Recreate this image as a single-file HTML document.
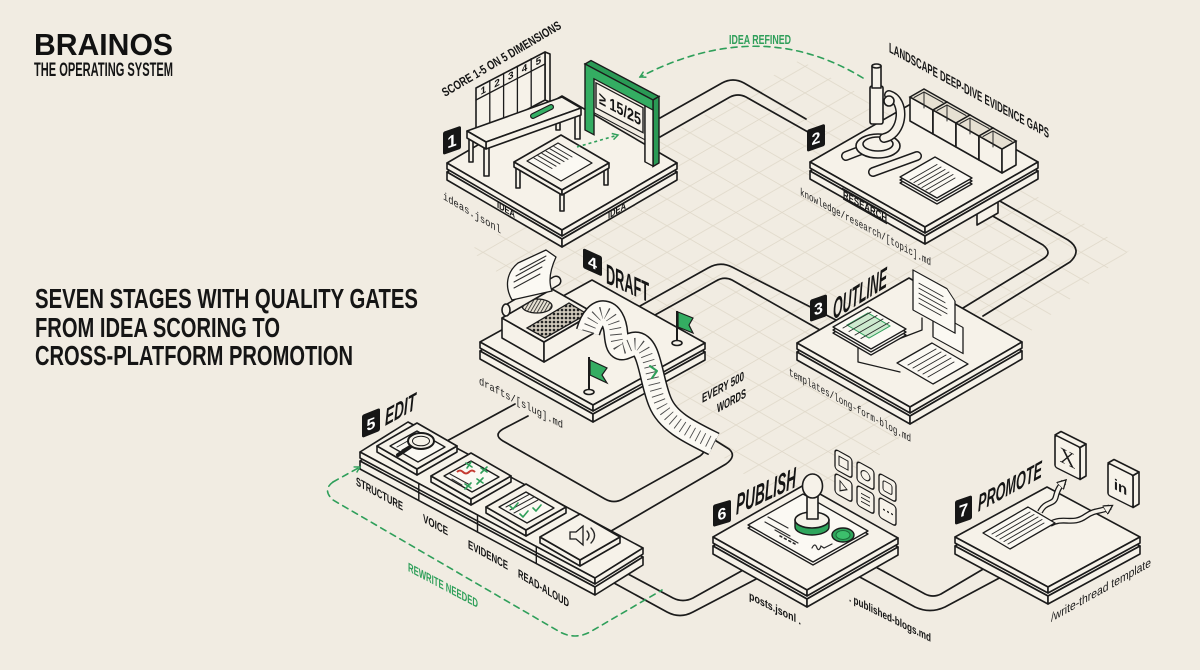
<!DOCTYPE html>
<html><head><meta charset="utf-8"><title>BrainOS</title>
<style>
html,body{margin:0;padding:0;background:#f1ece2;width:1200px;height:670px;overflow:hidden}
svg{display:block}
.s{fill:#f6f2e9;stroke:#1b1b1b;stroke-width:1.6;stroke-linejoin:round}
.w{fill:#fbf9f3;stroke:#1b1b1b;stroke-width:1.3;stroke-linejoin:round}
.l{fill:none;stroke:#1b1b1b;stroke-width:1.7;stroke-linecap:round;stroke-linejoin:round}
.h{fill:none;stroke:#2a2a2a;stroke-width:1;stroke-linecap:round}
.c{font-family:"Liberation Sans Narrow","Liberation Sans",sans-serif;font-weight:700;fill:#151515}
.ci{font-family:"Liberation Sans Narrow","Liberation Sans",sans-serif;font-weight:700;font-style:italic;fill:#151515}
.n{font-family:"Liberation Sans Narrow","Liberation Sans",sans-serif;fill:#1b1b1b}
.m{font-family:"Liberation Mono",monospace;fill:#1b1b1b}
.gd{fill:none;stroke:#2f9f5a;stroke-width:1.6;stroke-dasharray:6 5;stroke-linecap:round}
.gl{fill:none;stroke:#2f9f5a;stroke-width:1.6;stroke-linecap:round;stroke-linejoin:round}
</style></head><body>
<svg width="1200" height="670" viewBox="0 0 1200 670" xmlns="http://www.w3.org/2000/svg">
<defs>
<pattern id="grid" patternUnits="userSpaceOnUse" width="46" height="26.56">
<path d="M0,0 L46,26.56 M0,26.56 L46,0" stroke="#e0d9ca" stroke-width="0.8" fill="none"/>
</pattern>
<clipPath id="gc"><polygon points="470,250 800,60 1130,250 800,520"/></clipPath>
<pattern id="dots" patternUnits="userSpaceOnUse" width="4" height="4"><rect width="4" height="4" fill="#cfc8ba"/><circle cx="2" cy="2" r="1.3" fill="#222"/></pattern>
<pattern id="hatch" patternUnits="userSpaceOnUse" width="3" height="3" patternTransform="rotate(30)"><rect width="3" height="3" fill="#e8e2d4"/><line x1="0" y1="0" x2="0" y2="3" stroke="#222" stroke-width="1.6"/></pattern>
<marker id="ga" viewBox="0 0 10 10" refX="8" refY="5" markerWidth="8" markerHeight="8" orient="auto-start-reverse" markerUnits="userSpaceOnUse"><path d="M1,1 L8,5 L1,9" fill="none" stroke="#2f9f5a" stroke-width="1.8" stroke-dasharray="none"/></marker>
<marker id="ka" viewBox="0 0 10 10" refX="6" refY="5" markerWidth="10" markerHeight="10" orient="auto" markerUnits="userSpaceOnUse"><path d="M0,0 L9,5 L0,10 Z" fill="#f6f2e9" stroke="#1b1b1b" stroke-width="1.3"/></marker>
</defs>
<rect width="1200" height="670" fill="#f1ece2"/>
<rect x="420" y="40" width="740" height="500" fill="url(#grid)" clip-path="url(#gc)"/>

<!-- Title -->
<text x="34" y="55" font-family="Liberation Sans, sans-serif" font-weight="700" font-size="31" fill="#111" textLength="139" lengthAdjust="spacingAndGlyphs">BRAINOS</text>
<text class="c" x="34" y="76" font-size="19" textLength="139" lengthAdjust="spacingAndGlyphs">THE OPERATING SYSTEM</text>

<!-- Headline -->
<text class="c" x="35" y="308" font-size="28" textLength="383" lengthAdjust="spacingAndGlyphs">SEVEN STAGES WITH QUALITY GATES</text>
<text class="c" x="35" y="337" font-size="28" textLength="245" lengthAdjust="spacingAndGlyphs">FROM IDEA SCORING TO</text>
<text class="c" x="35" y="365" font-size="28" textLength="318" lengthAdjust="spacingAndGlyphs">CROSS-PLATFORM PROMOTION</text>

<!-- Roads -->
<g class="l">
<path d="M660,118 L722,83 Q733,77 744,83 L806,119"/>
<path d="M660,137 L730,97 Q738,93 746,97 L808,132"/>
<path d="M998,200 L1068,240 Q1083,250 1070,262 L983,316"/>
<path d="M977,207 L1043,245 Q1053,253 1043,259 L963,308"/>
<path d="M640,306 L708,268 Q720,261 732,267 L836,320"/>
<path d="M655,315 L716,281 Q724,276 732,280 L820,330"/>
<path d="M515,404 L445,442"/>
<path d="M528,416 L503,429 Q493,435 503,441 L605,499 Q614,504 623,499 L700,456 Q708,450 700,446 L692,441"/>
<path d="M606,534 L726,464 Q737,456 729,449 L713,439"/>
<path d="M628,574 L673,598 Q683,603 693,598 L745,569"/>
<path d="M614,583 L667,612 Q680,619 693,612 L760,577"/>
<path d="M872,565 L925,594 Q933,598 941,594 L985,568"/>
<path d="M856,575 L915,607 Q930,614 945,607 L1005,575"/>
</g>

<!-- Idea refined arrow -->
<path class="gd" d="M863,78 Q760,15 640,77" marker-end="url(#ga)"/>
<text class="c" x="729" y="44" font-size="13" style="fill:#2f9f5a" textLength="62" lengthAdjust="spacingAndGlyphs">IDEA REFINED</text>

<!-- ============ STAGE 1 ============ -->
<polygon class="s" points="447,172 562,239 677,172 562,105"/>
<polygon class="s" points="447,172 562,239 562,247 447,180"/>
<polygon class="s" points="562,239 677,172 677,180 562,247"/>
<polygon class="s" points="447,163 562,230 677,163 562,96"/>
<polygon class="s" points="447,163 562,230 562,236 447,169"/>
<polygon class="s" points="562,230 677,163 677,169 562,236"/>
<polygon class="s" points="545,52 550,54 550,102 545,100"/>
<polygon class="s" points="476,88 545,52 545,100 476,137"/>
<path class="l" d="M476,100 L545,64 M489.8,80.7 L489.8,129.7 M503.6,73.4 L503.6,122.4 M517.4,66.1 L517.4,115.1 M531.2,58.7 L531.2,107.7" style="stroke-width:1.3"/>
<g class="c" font-size="10">
<text transform="matrix(1,-0.53,0,1,480.5,95)">1</text>
<text transform="matrix(1,-0.53,0,1,494.3,87.7)">2</text>
<text transform="matrix(1,-0.53,0,1,508,80.4)">3</text>
<text transform="matrix(1,-0.53,0,1,521.8,73)">4</text>
<text transform="matrix(1,-0.53,0,1,535.6,65.7)">5</text>
</g>
<rect class="s" x="469" y="135" width="4" height="27"/>
<rect class="s" x="556" y="103" width="4" height="27"/>
<rect class="s" x="575" y="111" width="5" height="28"/>
<rect class="s" x="484" y="146" width="5" height="30"/>
<polygon class="s" points="467,131 562,97 581,108 486,142"/>
<polygon class="s" points="486,142 581,108 581,115 486,149"/>
<polygon class="s" points="467,131 486,142 486,149 467,138"/>
<line x1="533" y1="116" x2="551" y2="107" stroke="#1b1b1b" stroke-width="6" stroke-linecap="round"/>
<line x1="533" y1="116" x2="551" y2="107" stroke="#35b065" stroke-width="3.6" stroke-linecap="round"/>
<polygon points="585,64 653,100 659,96.5 591,60.5" fill="#2a9a55" stroke="#1b1b1b" stroke-width="1.4"/>
<polygon points="653,100 659,96.5 659,163 653,166.5" fill="#2a9a55" stroke="#1b1b1b" stroke-width="1.4"/>
<g transform="matrix(1,0.53,0,1,585,64)">
<path d="M0,0 H68 V66 H60 V10 H9 V66 H0 Z" fill="#34ad62" stroke="#1b1b1b" stroke-width="1.4"/>
<rect x="60" y="10" width="8" height="56" fill="#f6f2e9" stroke="#1b1b1b" stroke-width="1.4"/>
<rect x="11" y="13" width="47" height="25" fill="#f6f2e9" stroke="#1b1b1b" stroke-width="1.4"/>
<line x1="9" y1="44" x2="60" y2="44" stroke="#1b1b1b" stroke-width="1.2"/>
<text class="c" x="14" y="32" font-size="17" textLength="42" lengthAdjust="spacingAndGlyphs">≥ 15/25</text>
</g>
<rect class="s" x="516" y="164" width="4" height="24"/>
<rect class="s" x="560" y="190" width="4" height="21"/>
<rect class="s" x="604" y="163" width="4" height="22"/>
<polygon class="s" points="514,162 561,135 609,163 562,190"/>
<polygon class="s" points="514,162 562,190 562,195 514,167"/>
<polygon class="s" points="562,190 609,163 609,168 562,195"/>
<polygon class="w" points="527,161 558,143 592,163 561,181"/>
<path class="h" d="M534,158 L552,168.5 M538,155.7 L556,166.2 M542,153.4 L560,163.9 M546,151.1 L564,161.6 M550,148.8 L568,159.3 M554,146.5 L572,157"/>
<path d="M577,147 L618,135" fill="none" stroke="#2f9f5a" stroke-width="1.6" stroke-dasharray="3 3" marker-end="url(#ga)"/>
<g transform="matrix(1,-0.35,0,1,443,155)"><rect x="0" y="-23" width="18" height="23" rx="2" fill="#161616"/><text class="c" x="9" y="-5" font-size="17" text-anchor="middle" style="fill:#fff">1</text></g>
<text class="c" font-size="12.5" transform="translate(445,97) rotate(-30.5)" textLength="136" lengthAdjust="spacingAndGlyphs">SCORE 1-5 ON 5 DIMENSIONS</text>
<text class="c" font-size="10" transform="matrix(1,0.583,0,1,497,207.5)" textLength="18" lengthAdjust="spacingAndGlyphs">IDEA</text>
<text class="c" font-size="10" transform="matrix(1,-0.583,0,1,608,219)" textLength="18" lengthAdjust="spacingAndGlyphs">IDEA</text>
<text class="m" font-size="11" transform="matrix(1,0.6,0,1,443,199)" textLength="58" lengthAdjust="spacingAndGlyphs">ideas.jsonl</text>

<!-- ============ STAGE 2 ============ -->
<polygon class="s" points="977,207 998,195 998,213 977,225"/>
<polygon class="s" points="810,171 925,236 1038,171 923,106"/>
<polygon class="s" points="810,171 925,236 925,244 810,179"/>
<polygon class="s" points="925,236 1038,171 1038,179 925,244"/>
<polygon class="s" points="810,162 925,227 1038,162 923,97"/>
<polygon class="s" points="810,162 925,227 925,233 810,168"/>
<polygon class="s" points="925,227 1038,162 1038,168 925,233"/>
<path d="M846,156 L872,146 M873,172 L917,156" stroke="#1b1b1b" stroke-width="10" stroke-linecap="round" fill="none"/>
<path d="M846,156 L872,146 M873,172 L917,156" stroke="#f6f2e9" stroke-width="7" stroke-linecap="round" fill="none"/>
<ellipse class="s" cx="878" cy="146" rx="22" ry="12"/>
<ellipse class="s" cx="878" cy="144" rx="15" ry="7"/>
<path d="M884,138 C904,134 906,100 889,95" stroke="#1b1b1b" stroke-width="10" fill="none" stroke-linecap="round"/>
<path d="M884,138 C904,134 906,100 889,95" stroke="#f6f2e9" stroke-width="7" fill="none" stroke-linecap="round"/>
<rect class="s" x="870" y="86" width="13" height="38" rx="2"/>
<rect class="s" x="872" y="66" width="9" height="22"/>
<ellipse class="s" cx="876.5" cy="66" rx="4.5" ry="2"/>
<circle class="s" cx="889" cy="101" r="5"/>
<g>
<polygon class="s" points="910,97 933,110 933,134 910,121"/><polygon class="s" points="933,110 947,102 947,126 933,134"/><polygon points="910,97 924,89 947,102 933,110" fill="#e6e0d2" stroke="#1b1b1b" stroke-width="1.5"/><path class="h" d="M914,97.5 L924,92 L943,102.5 M924,92 L924,108"/>
<polygon class="s" points="933,110 956,123 956,147 933,134"/><polygon class="s" points="956,123 970,115 970,139 956,147"/><polygon points="933,110 947,102 970,115 956,123" fill="#e6e0d2" stroke="#1b1b1b" stroke-width="1.5"/><path class="h" d="M937,110.5 L947,105 L966,115.5 M947,105 L947,121"/>
<polygon class="s" points="956,123 979,136 979,160 956,147"/><polygon class="s" points="979,136 993,128 993,152 979,160"/><polygon points="956,123 970,115 993,128 979,136" fill="#e6e0d2" stroke="#1b1b1b" stroke-width="1.5"/><path class="h" d="M960,123.5 L970,118 L989,128.5 M970,118 L970,134"/>
<polygon class="s" points="979,136 1002,149 1002,173 979,160"/><polygon class="s" points="1002,149 1016,141 1016,165 1002,173"/><polygon points="979,136 993,128 1016,141 1002,149" fill="#e6e0d2" stroke="#1b1b1b" stroke-width="1.5"/><path class="h" d="M983,136.5 L993,131 L1012,141.5 M993,131 L993,147"/>
</g>
<polygon class="w" points="900,183 935,163 972,184 937,204"/>
<polygon class="w" points="900,180 935,160 972,181 937,201"/>
<polygon class="w" points="900,177 935,157 972,178 937,198"/>
<path class="h" d="M910,180 L937,164.5 M914,182.5 L941,167 M918,185 L945,169.5 M922,187.5 L949,172 M926,190 L953,174.5 M930,192.5 L955,178"/>
<g transform="matrix(1,-0.35,0,1,807,152)"><rect x="0" y="-22" width="18" height="22" rx="2" fill="#161616"/><text class="c" x="9" y="-5" font-size="16" text-anchor="middle" style="fill:#fff">2</text></g>
<text class="c" font-size="10.5" transform="matrix(1,0.565,0,1,843,197.5)" textLength="44" lengthAdjust="spacingAndGlyphs" text-decoration="underline">RESEARCH</text>
<line x1="842" y1="188" x2="886" y2="213" stroke="#1b1b1b" stroke-width="1"/>
<text class="m" font-size="11" transform="matrix(1,0.54,0,1,800,195)" textLength="131" lengthAdjust="spacingAndGlyphs">knowledge/research/[topic].md</text>
<text class="c" font-size="14" transform="matrix(1,0.54,0,1,889,52)" textLength="160" lengthAdjust="spacingAndGlyphs">LANDSCAPE DEEP-DIVE EVIDENCE GAPS</text>

<!-- ============ STAGE 3 ============ -->
<polygon class="s" points="797,352 910,416 1022,351 909,287"/>
<polygon class="s" points="797,352 910,416 910,424 797,360"/>
<polygon class="s" points="910,416 1022,351 1022,359 910,424"/>
<polygon class="s" points="797,343 910,407 1022,342 909,278"/>
<polygon class="s" points="797,343 910,407 910,413 797,349"/>
<polygon class="s" points="910,407 1022,342 1022,348 910,413"/>
<g transform="matrix(1,0.55,0,1,913,270)">
<rect class="w" x="20" y="30" width="30" height="26"/>
<path class="w" d="M0,0 H34 L42,8 V40 H0 Z"/>
<path class="h" d="M6,10 H30 M6,15 H32 M6,20 H34 M6,25 H34 M6,30 H28"/>
</g>
<path class="l" style="stroke-width:1.3" d="M858,340 L858,362 L900,372 M880,350 L896,340 L922,330 L922,318"/>
<polygon class="w" points="833,333 868,313 906,335 871,355"/>
<polygon class="w" points="833,330 868,310 906,332 871,352"/>
<polygon class="w" points="833,327 868,307 906,329 871,349"/>
<polygon points="847,325 868,313 890,326 869,338" fill="#cdeacf" stroke="#2f9f5a" stroke-width="1"/>
<path class="h" d="M843,328 L871,312 M849,331.5 L877,315.5 M855,335 L883,319 M861,338.5 L889,322.5"/>
<polygon class="w" points="897,363 932,343 968,364 933,384"/>
<path class="h" d="M908,365 L936,349 M913,368 L941,352 M918,371 L946,355 M923,374 L951,358 M928,377 L954,362"/>
<g transform="matrix(1,-0.35,0,1,810,322)"><rect x="0" y="-22" width="17" height="22" rx="2" fill="#161616"/><text class="c" x="8.5" y="-5" font-size="16" text-anchor="middle" style="fill:#fff">3</text></g>
<text class="ci" font-size="29" transform="matrix(1,-0.62,0,1,833,320)" textLength="54" lengthAdjust="spacingAndGlyphs">OUTLINE</text>
<text class="m" font-size="11" transform="matrix(1,0.55,0,1,789,375)" textLength="122" lengthAdjust="spacingAndGlyphs">templates/long-form-blog.md</text>

<!-- ============ STAGE 4 ============ -->
<polygon class="s" points="480,351 593,414 705,352 592,289"/>
<polygon class="s" points="480,351 593,414 593,422 480,359"/>
<polygon class="s" points="593,414 705,352 705,360 593,422"/>
<polygon class="s" points="480,342 593,405 705,343 592,280"/>
<polygon class="s" points="480,342 593,405 593,411 480,348"/>
<polygon class="s" points="593,405 705,343 705,349 593,411"/>
<polygon class="s" points="502,318 544,342 544,362 502,338"/>
<polygon class="s" points="544,342 594,313 594,333 544,362"/>
<polygon class="s" points="502,318 552,289 594,313 544,342"/>
<polygon points="545,338 587,314 569,303 527,328" fill="url(#dots)" stroke="#1b1b1b" stroke-width="1.3"/>
<ellipse cx="537" cy="306" rx="15" ry="7" fill="url(#hatch)" stroke="#1b1b1b" stroke-width="1.3"/>
<path d="M508,309 L556,281" stroke="#1b1b1b" stroke-width="11" stroke-linecap="round"/>
<path d="M508,309 L556,281" stroke="#f6f2e9" stroke-width="8" stroke-linecap="round"/>
<ellipse class="s" cx="506" cy="310" rx="4" ry="6"/>
<path class="w" d="M512,300 C504,286 507,272 518,263 L546,250 L556,257 C550,270 548,281 552,291 Z"/>
<path class="h" d="M514,288 L540,274 M514,282 L542,267 M516,276 L545,260 M520,270 L546,256"/>
<path d="M588,332 C596,304 614,308 616,334 C618,356 624,346 634,344 C650,342 650,378 660,402 C668,422 690,432 714,444" fill="none" stroke="#1b1b1b" stroke-width="25" stroke-linejoin="round"/>
<path d="M588,332 C596,304 614,308 616,334 C618,356 624,346 634,344 C650,342 650,378 660,402 C668,422 690,432 714,444" fill="none" stroke="#fbf9f3" stroke-width="22" stroke-linejoin="round"/>
<path d="M588,332 C596,304 614,308 616,334 C618,356 624,346 634,344 C650,342 650,378 660,402 C668,422 690,432 714,444" fill="none" stroke="#4a4a4a" stroke-width="12" stroke-dasharray="0.9 5"/>
<path class="gl" d="M650,366 L657,371 L652,378" style="stroke-width:2"/>
<line x1="677" y1="311" x2="677" y2="342" stroke="#1b1b1b" stroke-width="2"/>
<ellipse class="s" cx="677" cy="343" rx="5" ry="2.5"/>
<polygon points="678,312 693,318 689,325 693,333 678,327" fill="#34ad62" stroke="#1b1b1b" stroke-width="1.2"/>
<line x1="589" y1="357" x2="589" y2="391" stroke="#1b1b1b" stroke-width="2"/>
<ellipse class="s" cx="589" cy="392" rx="5" ry="2.5"/>
<polygon points="590,360 607,368 602,375 607,383 590,375" fill="#34ad62" stroke="#1b1b1b" stroke-width="1.2"/>
<g transform="matrix(1,0.45,0,1,583,248)"><rect x="0" y="0" width="19" height="20" rx="2" fill="#161616"/><text class="c" x="9.5" y="16" font-size="16" text-anchor="middle" style="fill:#fff">4</text></g>
<text class="c" font-size="28" transform="matrix(1,0.45,0,1,606,283)" textLength="43" lengthAdjust="spacingAndGlyphs">DRAFT</text>
<text class="m" font-size="11" transform="matrix(1,0.53,0,1,479,384)" textLength="84" lengthAdjust="spacingAndGlyphs">drafts/[slug].md</text>
<text class="c" font-size="13" transform="matrix(1,-0.55,0,1,702,403)" textLength="42" lengthAdjust="spacingAndGlyphs">EVERY 500</text>
<text class="c" font-size="13" transform="matrix(1,-0.55,0,1,717,413)" textLength="29" lengthAdjust="spacingAndGlyphs">WORDS</text>

<!-- ============ STAGE 5 ============ -->
<polygon class="s" points="360,461 595,587 643,557 408,431"/>
<polygon class="s" points="360,461 595,587 595,595 360,469"/>
<polygon class="s" points="595,587 643,557 643,565 595,595"/>
<polygon class="s" points="360,452 595,578 643,548 408,422"/>
<polygon class="s" points="360,452 595,578 595,584 360,458"/>
<polygon class="s" points="595,578 643,548 643,554 595,584"/>
<path class="l" style="stroke-width:1.4" d="M418.8,483.4 V500.4 M477.5,515 V532 M536.3,546.4 V563.4"/>
<polygon class="s" points="377,446 417,469 417,475 377,452"/><polygon class="s" points="417,469 457,446 457,452 417,475"/><polygon class="s" points="377,446 417,423 457,446 417,469"/>
<polygon class="s" points="431,476 471,499 471,505 431,482"/><polygon class="s" points="471,499 511,476 511,482 471,505"/><polygon class="s" points="431,476 471,453 511,476 471,499"/>
<polygon class="s" points="486,507 526,530 526,536 486,513"/><polygon class="s" points="526,530 566,507 566,513 526,536"/><polygon class="s" points="486,507 526,484 566,507 526,530"/>
<polygon class="s" points="540,537 580,560 580,566 540,543"/><polygon class="s" points="580,560 620,537 620,543 580,566"/><polygon class="s" points="540,537 580,514 620,537 580,560"/>
<polygon class="w" points="390,446 417,431 445,447 418,462"/>
<path class="h" d="M397,447 L422,433 M402,450 L427,436"/>
<line x1="410" y1="447" x2="398" y2="455" stroke="#1b1b1b" stroke-width="4" stroke-linecap="round"/>
<ellipse cx="421" cy="441" rx="13" ry="8" fill="#f6f2e9" stroke="#1b1b1b" stroke-width="2"/>
<ellipse cx="421" cy="441" rx="8.5" ry="4.8" fill="none" stroke="#1b1b1b" stroke-width="1"/>
<polygon class="w" points="444,476 471,461 499,477 472,492"/>
<path class="h" d="M452,479 L462,485 M450,474 L470,485"/>
<path d="M457,472 q3,-3 6,0 t6,0 t6,0" fill="none" stroke="#c43a31" stroke-width="2"/>
<path class="gl" d="M466,463 L472,467 M471,462 L467,468 M481,468 L487,472 M487,467 L481,473 M477,479 L483,483 M483,478 L477,484 M465,484 L471,488 M471,483 L465,489"/>
<polygon class="w" points="499,507 526,492 554,508 527,523"/>
<path class="h" d="M506,507 L530,494 M510,510 L534,497 M514,513 L538,500"/>
<path class="gl" d="M510,506 L513,509 L518,503 M520,514 L523,517 L528,511 M533,508 L536,511 L541,505"/>
<polygon points="570,532 576,532 583,526 583,545 576,539 570,539" fill="#f6f2e9" stroke="#1b1b1b" stroke-width="1.3"/>
<path class="h" d="M587,531 q4,4.5 0,9 M591,528 q7,7.5 0,15" style="stroke-width:1.4"/>
<path class="gd" d="M333,482 Q322,490 333,500 L560,632 Q575,640 590,632 L662,590"/>
<path class="gd" d="M333,482 L360,467" marker-end="url(#ga)"/>
<g transform="matrix(1,-0.4,0,1,362,438)"><rect x="0" y="-23" width="18" height="23" rx="2" fill="#161616"/><text class="c" x="9" y="-5" font-size="16" text-anchor="middle" style="fill:#fff">5</text></g>
<text class="ci" font-size="24" transform="matrix(1,-0.55,0,1,385,426)" textLength="31" lengthAdjust="spacingAndGlyphs">EDIT</text>
<g class="c" font-size="12">
<text transform="matrix(1,0.55,0,1,356,485)" textLength="47" lengthAdjust="spacingAndGlyphs">STRUCTURE</text>
<text transform="matrix(1,0.55,0,1,423,522)" textLength="25" lengthAdjust="spacingAndGlyphs">VOICE</text>
<text transform="matrix(1,0.55,0,1,468,548)" textLength="40" lengthAdjust="spacingAndGlyphs">EVIDENCE</text>
<text transform="matrix(1,0.6,0,1,518,577)" textLength="51" lengthAdjust="spacingAndGlyphs">READ-ALOUD</text>
</g>
<text class="c" font-size="12.5" style="fill:#2f9f5a" transform="matrix(1,0.53,0,1,408,571)" textLength="70" lengthAdjust="spacingAndGlyphs">REWRITE NEEDED</text>

<!-- ============ STAGE 6 ============ -->
<polygon class="s" points="713,546 807,599 898,547 804,494"/>
<polygon class="s" points="713,546 807,599 807,607 713,554"/>
<polygon class="s" points="807,599 898,547 898,555 807,607"/>
<polygon class="s" points="713,537 807,590 898,538 804,485"/>
<polygon class="s" points="713,537 807,590 807,596 713,543"/>
<polygon class="s" points="807,590 898,538 898,544 807,596"/>
<polygon class="w" points="748,528 803,497 868,534 813,565"/>
<polygon class="w" points="748,525 803,494 868,531 813,562"/>
<path class="h" d="M768,517 L788,528 M765,522 L790,536 M775,530 L798,543" style="stroke-width:1.2"/>
<path class="h" d="M780,536 L797,545" style="stroke-dasharray:2 3;stroke-width:1.6"/>
<path class="h" d="M812,548 q3,-6 5,0 q2,4 4,-2 l3,2 l8,-4" style="stroke-width:1.2"/>
<path d="M795,520 L795,527 A17,8 0 0 0 829,527 L829,520 Z" fill="#2fa55c" stroke="#1b1b1b" stroke-width="1.4"/>
<ellipse class="s" cx="812" cy="520" rx="17" ry="8"/>
<rect class="s" x="807" y="494" width="11" height="25"/>
<ellipse class="s" cx="812.5" cy="486" rx="10" ry="12"/>
<ellipse cx="843" cy="535" rx="11" ry="7" fill="#2fa55c" stroke="#1b1b1b" stroke-width="1.4"/>
<ellipse cx="843" cy="535" rx="7" ry="4.5" fill="#3cbf6c" stroke="#1c6b3a" stroke-width="1"/>
<g fill="#f6f2e9" stroke="#1b1b1b" stroke-width="1.3">
<g transform="matrix(1,0.55,0,1,835,449)"><rect width="17" height="20" rx="3"/><rect x="4" y="5" width="9" height="9" fill="none" stroke-width="1"/></g>
<g transform="matrix(1,0.55,0,1,857,461)"><rect width="17" height="20" rx="3"/><circle cx="8.5" cy="10" r="4.5" fill="none" stroke-width="1"/></g>
<g transform="matrix(1,0.55,0,1,879,473)"><rect width="17" height="20" rx="3"/><rect x="4" y="5" width="9" height="10" rx="2" fill="none" stroke-width="1"/></g>
<g transform="matrix(1,0.55,0,1,835,473)"><rect width="17" height="20" rx="3"/><path d="M5,5 L12,10 L5,15 Z" fill="none" stroke-width="1"/></g>
<g transform="matrix(1,0.55,0,1,857,485)"><rect width="17" height="20" rx="3"/><path d="M4,6 H13 M4,10 H13 M4,14 H13" fill="none" stroke-width="1"/></g>
<g transform="matrix(1,0.55,0,1,879,497)"><rect width="17" height="20" rx="3"/><path d="M4,10 h2 M8,10 h2 M12,10 h2" fill="none" stroke-width="1.4"/></g>
</g>
<g transform="matrix(1,-0.3,0,1,713,527)"><rect x="0" y="-22" width="18" height="22" rx="2" fill="#161616"/><text class="c" x="9" y="-5" font-size="16" text-anchor="middle" style="fill:#fff">6</text></g>
<text class="ci" font-size="29" transform="matrix(1,-0.47,0,1,736,515)" textLength="60" lengthAdjust="spacingAndGlyphs">PUBLISH</text>
<text class="c" font-size="11.5" transform="matrix(1,0.5,0,1,749,599)" textLength="52" lengthAdjust="spacingAndGlyphs">posts.jsonl .</text>
<text class="c" font-size="11.5" transform="matrix(1,0.5,0,1,849,601)" textLength="82" lengthAdjust="spacingAndGlyphs">. published-blogs.md</text>

<!-- ============ STAGE 7 ============ -->
<polygon class="s" points="955,546 1048,596 1140,546 1047,496"/>
<polygon class="s" points="955,546 1048,596 1048,604 955,554"/>
<polygon class="s" points="1048,596 1140,546 1140,554 1048,604"/>
<polygon class="s" points="955,537 1048,587 1140,537 1047,487"/>
<polygon class="s" points="955,537 1048,587 1048,593 955,543"/>
<polygon class="s" points="1048,587 1140,537 1140,543 1048,593"/>
<path d="M1040,512 C1046,500 1054,506 1056,496 C1058,488 1061,485 1064,482" stroke="#1b1b1b" stroke-width="6" fill="none"/>
<path d="M1040,512 C1046,500 1054,506 1056,496 C1058,488 1061,485 1064,482" stroke="#f6f2e9" stroke-width="3.4" fill="none" marker-end="url(#ka)"/>
<path d="M1050,524 C1064,516 1072,526 1086,516 C1096,509 1102,512 1110,507" stroke="#1b1b1b" stroke-width="6" fill="none"/>
<path d="M1050,524 C1064,516 1072,526 1086,516 C1096,509 1102,512 1110,507" stroke="#f6f2e9" stroke-width="3.4" fill="none" marker-end="url(#ka)"/>
<polygon class="w" points="983,533 1028,507 1055,523 1010,549"/>
<path class="h" d="M992,534 L1030,512 M996,536.5 L1034,514.5 M1000,539 L1038,517 M1004,541.5 L1042,519.5 M1008,544 L1044,523"/>
<polygon class="s" points="1080,447.5 1086,444 1086,476 1080,479.5"/>
<polygon class="s" points="1055,435 1061,431.5 1086,444 1080,447.5"/>
<g transform="matrix(1,0.5,0,1,1055,435)"><rect class="s" width="25" height="32" rx="2"/><text x="12.5" y="24" font-family="Liberation Serif, serif" font-size="22" text-anchor="middle" fill="#1b1b1b">X</text></g>
<polygon class="s" points="1133,475.5 1139,472 1139,504 1133,507.5"/>
<polygon class="s" points="1108,463 1114,459.5 1139,472 1133,475.5"/>
<g transform="matrix(1,0.5,0,1,1108,463)"><rect class="s" width="25" height="32" rx="2"/><text x="12.5" y="23" font-family="Liberation Sans, sans-serif" font-weight="700" font-size="15" text-anchor="middle" fill="#1b1b1b">in</text></g>
<g transform="matrix(1,-0.35,0,1,955,525)"><rect x="0" y="-24" width="17" height="24" rx="2" fill="#161616"/><text class="c" x="8.5" y="-6" font-size="17" text-anchor="middle" style="fill:#fff">7</text></g>
<text class="ci" font-size="24" transform="matrix(1,-0.55,0,1,978,512)" textLength="64" lengthAdjust="spacingAndGlyphs">PROMOTE</text>
<text class="n" font-size="12.5" transform="matrix(1,-0.56,0,1,1051,622)" textLength="100" lengthAdjust="spacingAndGlyphs">/write-thread template</text>
</svg>
</body></html>
